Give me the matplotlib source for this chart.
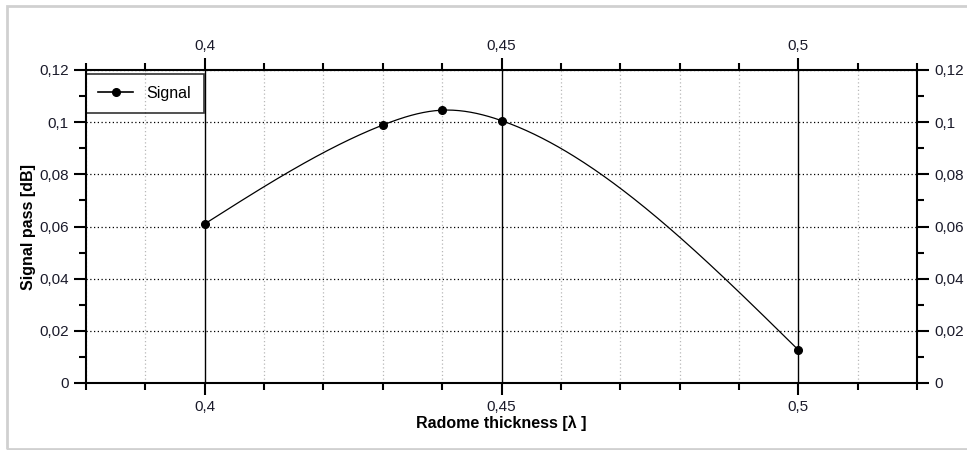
import numpy as np
import matplotlib.pyplot as plt
from matplotlib.ticker import MultipleLocator, FuncFormatter
from matplotlib.patches import Rectangle

plt.rcParams['font.family'] = ['Liberation Sans', 'DejaVu Sans']

# data
thickness = [0.40, 0.43, 0.44, 0.45, 0.50]
signal = [0.061, 0.0989, 0.1046, 0.1006, 0.0127]


def natural_spline(x, y, xs):
    # plain natural cubic spline, only used to draw the smooth line
    x = np.asarray(x, float)
    y = np.asarray(y, float)
    n = len(x)
    h = np.diff(x)
    A = np.zeros((n, n))
    b = np.zeros(n)
    A[0, 0] = A[-1, -1] = 1
    for i in range(1, n - 1):
        A[i, i - 1] = h[i - 1]
        A[i, i] = 2 * (h[i - 1] + h[i])
        A[i, i + 1] = h[i]
        b[i] = 3 * ((y[i + 1] - y[i]) / h[i] - (y[i] - y[i - 1]) / h[i - 1])
    c = np.linalg.solve(A, b)
    out = np.empty_like(xs)
    for k, xv in enumerate(xs):
        i = min(max(np.searchsorted(x, xv) - 1, 0), n - 2)
        bi = (y[i + 1] - y[i]) / h[i] - h[i] * (2 * c[i] + c[i + 1]) / 3
        di = (c[i + 1] - c[i]) / (3 * h[i])
        t = xv - x[i]
        out[k] = y[i] + bi * t + c[i] * t ** 2 + di * t ** 3
    return out


comma = FuncFormatter(lambda v, p: ('%g' % round(v, 4)).replace('.', ','))

fig = plt.figure(figsize=(9.67, 4.5), dpi=100)
fig.patches.append(Rectangle((7 / 967, 1 / 450), 1.0, 443 / 450, transform=fig.transFigure,
                             fill=False, edgecolor='#d0d0d0', linewidth=2))
ax = fig.add_axes([86 / 967, 1 - 383 / 450, 831 / 967, 313 / 450])

xs = np.linspace(thickness[0], thickness[-1], 300)
ax.plot(xs, natural_spline(thickness, signal, xs), color='black', lw=0.9, zorder=3)
ax.plot(thickness, signal, 'o', color='black', ms=5.5, zorder=4)
ax.plot([], [], '-o', color='black', ms=5.5, lw=1.2, label='Signal')

ax.set_xlim(0.38, 0.52)
ax.set_ylim(0, 0.12)
ax.xaxis.set_major_locator(MultipleLocator(0.05))
ax.xaxis.set_minor_locator(MultipleLocator(0.01))
ax.yaxis.set_major_locator(MultipleLocator(0.02))
ax.yaxis.set_minor_locator(MultipleLocator(0.01))
ax.xaxis.set_major_formatter(comma)
ax.yaxis.set_major_formatter(comma)

ax.grid(which='major', axis='x', color='black', lw=1, ls='-')
ax.grid(which='minor', axis='x', color='#b8b8b8', lw=0.9, ls=(0, (1, 2)))
ax.grid(which='major', axis='y', color='black', lw=0.9, ls=(0, (1, 2)))
ax.set_axisbelow(True)

ax.tick_params(which='both', direction='out', top=True, right=True,
               labeltop=True, labelright=True, labelsize=11, labelcolor='#1a1a2a',
               width=1.5)
ax.tick_params(which='major', length=8.5, pad=4)
ax.tick_params(which='minor', length=5)
for s in ax.spines.values():
    s.set_linewidth(1.5)

ax.set_xlabel('Radome thickness [λ ]', fontsize=11.5, fontweight='bold', labelpad=1)
ax.set_ylabel('Signal pass [dB]', fontsize=11.5, fontweight='bold', labelpad=2)

leg = ax.legend(loc='upper left', bbox_to_anchor=(0, 0.977, 118 / 831, 0.01), mode='expand',
                frameon=True, fancybox=False, fontsize=11.5, borderaxespad=0,
                handlelength=2.2, borderpad=0.75)
leg.get_frame().set_edgecolor('black')
leg.get_frame().set_linewidth(1.2)
leg.get_frame().set_facecolor('none')

fig.savefig('out.png', dpi=100)
